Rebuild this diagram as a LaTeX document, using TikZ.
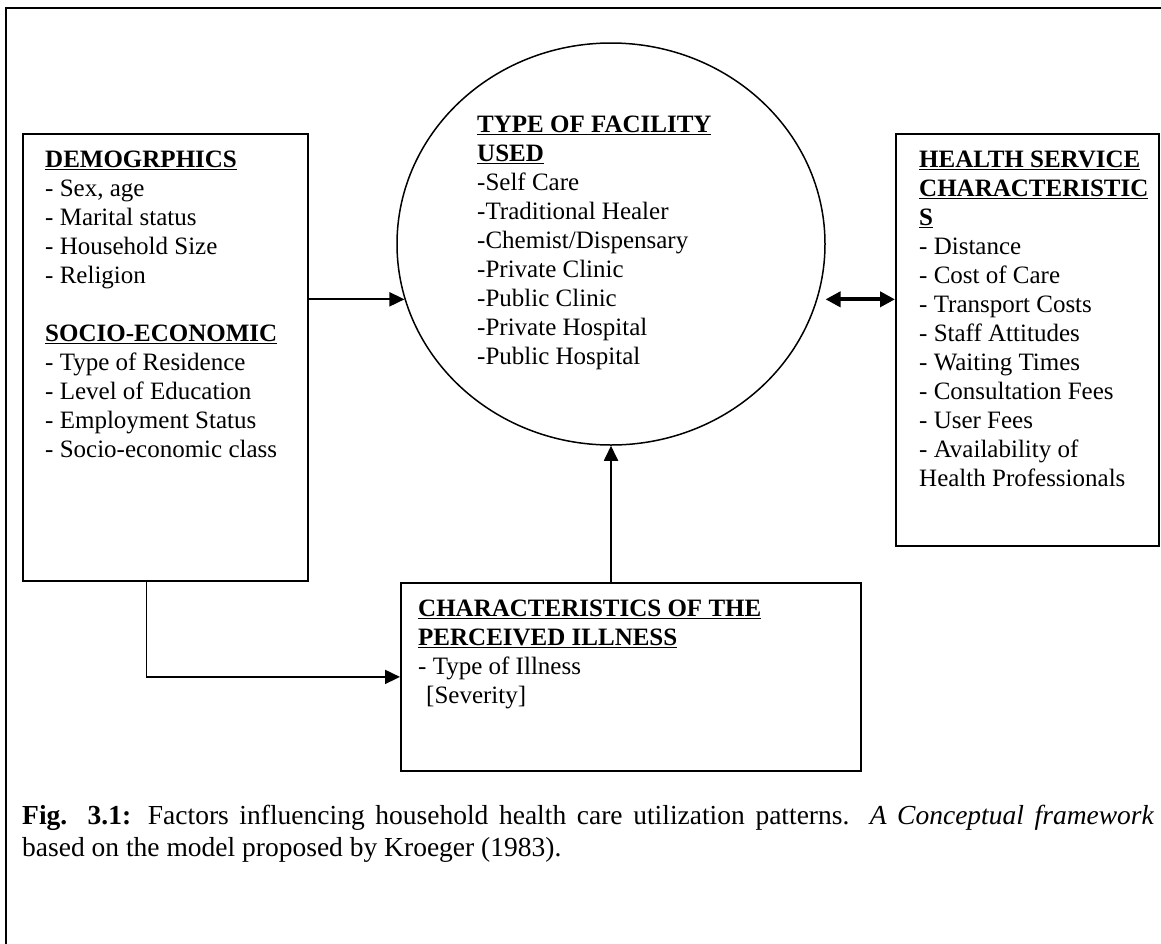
\documentclass[tikz,border=0pt]{standalone}
\usepackage{fontspec}
\setmainfont{Liberation Serif}
\usetikzlibrary{positioning, arrows.meta, shapes.geometric, calc}

\begin{document}
\begin{tikzpicture}[x=1pt, y=-1pt,
	box/.style={draw, line width=1.8pt, inner sep=0pt, anchor=north west},
	txt/.style={anchor=north west, align=left, inner sep=0pt, font=\fontsize{25}{29}\selectfont},
	arrow/.style={-{Triangle[length=15pt, width=14pt]}, line width=1.8pt},
	dblarrow/.style={{Triangle[length=15pt, width=15pt]}-{Triangle[length=15pt, width=15pt]}, line width=4pt}]

	\clip (0,0) rectangle (1161,943);
	\fill[white] (0,0) rectangle (1161,943);
	\draw[line width=1.4pt] (6,8) rectangle (1180,970);

	% Kaesten
	\node[box, minimum width=285pt, minimum height=447pt] (demog) at (22,133) {};
	\node[draw, ellipse, line width=1.5pt, minimum width=428pt, minimum height=402pt] (facility) at (611,244) {};
	\node[box, minimum width=263pt, minimum height=412pt] (hsc) at (895,133) {};
	\node[box, minimum width=460pt, minimum height=188pt] (illness) at (400,582) {};

	% Texte
	\node[txt] (demog_txt) at (45,151) {\underline{\textbf{DEMOGRPHICS}}\\
		- Sex, age\\
		- Marital status\\
		- Household Size\\
		- Religion\\[29pt]
		\underline{\textbf{SOCIO-ECONOMIC}}\\
		- Type of Residence\\
		- Level of Education\\
		- Employment Status\\
		- Socio-economic class};
	\node[txt] (facility_txt) at (477,116) {\underline{\textbf{TYPE OF FACILITY}}\\
		\underline{\textbf{USED}}\\
		-Self Care\\
		-Traditional Healer\\
		-Chemist/Dispensary\\
		-Private Clinic\\
		-Public Clinic\\
		-Private Hospital\\
		-Public Hospital};
	\node[txt] (hsc_txt) at (919,151) {\underline{\textbf{HEALTH SERVICE}}\\
		\underline{\textbf{CHARACTERISTIC}}\\
		\underline{\textbf{S}}\\
		- Distance\\
		- Cost of Care\\
		- Transport Costs\\
		- Staff Attitudes\\
		- Waiting Times\\
		- Consultation Fees\\
		- User Fees\\
		- Availability of\\
		Health Professionals};
	\node[txt] (illness_txt) at (418,600) {\underline{\textbf{CHARACTERISTICS OF THE}}\\
		\underline{\textbf{PERCEIVED ILLNESS}}\\
		- Type of Illness\\
		\hspace*{8pt}[Severity]};

	% Pfeile
	\draw[arrow] (demog.east |- facility.195) -- (facility.195);
	\draw[dblarrow, shorten <=8pt] (facility.345) -- (hsc.west |- facility.345);
	\draw[arrow] (illness.north -| facility.south) -- (facility.south);
	\draw[arrow] ([xshift=-19pt]demog.south) |- (illness.west);

	% Bildunterschrift
	\node[txt, text width=1132pt, align=justify, font=\fontsize{27.5}{32}\selectfont] (caption) at (22,805)
		{\textbf{Fig. 3.1:} Factors influencing household health care utilization patterns. \textit{A Conceptual framework}\linebreak based on the model proposed by Kroeger (1983).};
\end{tikzpicture}
\end{document}
